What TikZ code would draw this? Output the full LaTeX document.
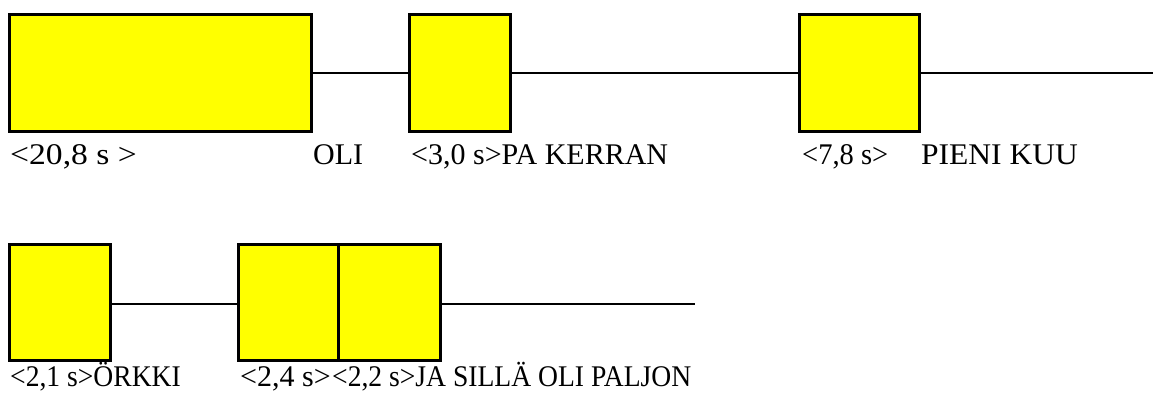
\documentclass[tikz,border=0pt]{standalone}
\usepackage{fontspec}
\setmainfont{Liberation Serif}
\definecolor{boxyellow}{RGB}{255,255,0}
\newcommand{\sx}[2]{\scalebox{#1}[1]{#2}}
\tikzset{
  ybox/.style={draw=black, line width=3pt, fill=boxyellow, inner sep=0pt, outer sep=0pt},
  link/.style={draw=black, line width=2pt},
  lbl/.style={anchor=base west, inner sep=0pt, font=\fontsize{30}{34}\selectfont}
}
\begin{document}
\begin{tikzpicture}[x=1pt,y=-1pt]
\useasboundingbox (0,0) rectangle (1153,394);
% row 1 boxes
\node[ybox, minimum width=302pt, minimum height=117pt] (b1) at (160.5,73) {};
\node[ybox, minimum width=101pt, minimum height=117pt] (b2) at (460,73) {};
\node[ybox, minimum width=120pt, minimum height=117pt] (b3) at (859,73) {};
\coordinate (e1) at (1153,73);
\draw[link] (b1.east) -- (b2.west);
\draw[link] (b2.east) -- (b3.west);
\draw[link] (b3.east) -- (e1);
% row 1 labels
\node[lbl] (t1) at (10,164) {\sx{1.12}{<20,8 s >}};
\node[lbl] (t2) at (313,164) {OLI};
\node[lbl] (t3) at (411,164) {<3,0 s>PA KERRAN};
\node[lbl] (t4) at (802,164) {\sx{0.95}{<7,8 s>}};
\node[lbl] (t5) at (921,164) {\sx{1.05}{PIENI KUU}};
% row 2 boxes
\node[ybox, minimum width=100.5pt, minimum height=116pt] (b4) at (59.75,302.5) {};
\node[ybox, minimum width=100pt, minimum height=116pt] (b5) at (288.5,302.5) {};
\node[ybox, minimum width=101.5pt, minimum height=116pt] (b6) at (389.25,302.5) {};
\coordinate (e2) at (695,303.5);
\draw[link] (b4.east |- 0,303.5) -- (b5.west |- 0,303.5);
\draw[link] (b6.east |- 0,303.5) -- (e2);
% row 2 labels
\node[lbl] (t6) at (10,386) {\sx{0.92}{<2,1 s>ÖRKKI}};
\node[lbl] (t7) at (240,386) {<2,4 s>};
\node[lbl] (t8) at (332,386) {\sx{0.92}{<2,2 s>JA SILLÄ OLI PALJON}};
\end{tikzpicture}
\end{document}
